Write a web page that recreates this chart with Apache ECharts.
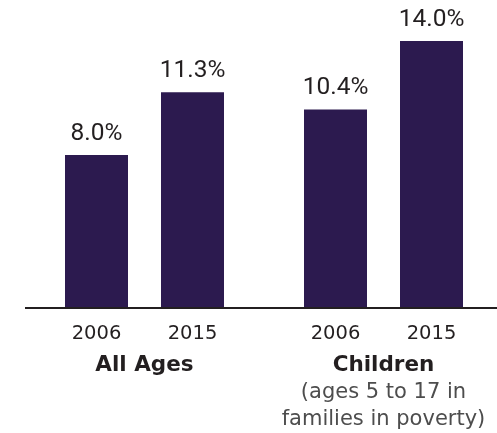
<!DOCTYPE html>
<html>
<head>
<meta charset="utf-8">
<script src="https://cdn.jsdelivr.net/npm/echarts@6/dist/echarts.min.js"></script>
<style>html,body{margin:0;padding:0;background:#fff}#c{width:497px;height:433px}</style>
</head>
<body>
<div id="c"></div>
<script>
var years = ['2006', '2015'];
var groupNames = ['All Ages', 'Children'];
var groupSubtitle = ['(ages 5 to 17 in', 'families in poverty)'];
var allAgesValues = [8.0, 11.3];
var childrenValues = [10.4, 14.0];

var barColor = '#2c1a4f';
var textColor = '#231f20';
var font = 'DejaVu Sans';

function hasFont(name) {
  var c = document.createElement('canvas').getContext('2d');
  c.font = '27px monospace';
  var a = c.measureText('14.0% abcdefg').width;
  c.font = '27px "' + name + '", monospace';
  var b = c.measureText('14.0% abcdefg').width;
  return Math.abs(a - b) > 0.5;
}
var narrow = hasFont('Liberation Sans Narrow');
var labelFont = narrow ? 'Liberation Sans Narrow' : 'Roboto';
var labelSize = narrow ? 27 : 24.5;

var chart = echarts.init(document.getElementById('c'), null, {renderer: 'canvas'});

function xAx(i, name) {
  return {
    type: 'category', gridIndex: i, data: years,
    axisLine: {show: false}, axisTick: {show: false},
    axisLabel: {color: textColor, fontSize: 19.5, fontFamily: font, margin: 17},
    name: name, nameLocation: 'middle', nameGap: 45,
    nameTextStyle: {
      color: textColor, fontSize: 21.5, fontFamily: font, fontWeight: 'bold', lineHeight: 27,
      rich: {
        b: {color: textColor, fontSize: 21.5, fontFamily: font, fontWeight: 'bold', lineHeight: 27},
        s: {color: '#4d4d4d', fontSize: 21, fontFamily: font, fontWeight: 'normal', lineHeight: 27}
      }
    }
  };
}
function yAx(i) {
  return {type: 'value', gridIndex: i, min: 0, max: 14, show: false, splitLine: {show: false}};
}
function ser(i, vals) {
  return {
    type: 'bar', xAxisIndex: i, yAxisIndex: i, data: vals, barWidth: 63,
    itemStyle: {color: barColor},
    label: {show: true, position: 'top', distance: 9, color: textColor, fontSize: labelSize, fontFamily: labelFont,
      formatter: function (p) { return p.value.toFixed(1) + '%'; }}
  };
}

chart.setOption({
  animation: false,
  grid: [
    {left: 48.5, width: 192, top: 41, bottom: 126, containLabel: false, outerBoundsMode: 'none'},
    {left: 287.5, width: 192, top: 41, bottom: 126, containLabel: false, outerBoundsMode: 'none'}
  ],
  xAxis: [
    xAx(0, groupNames[0]),
    xAx(1, '{b|' + groupNames[1] + '}\n{s|' + groupSubtitle[0] + '}\n{s|' + groupSubtitle[1] + '}')
  ],
  yAxis: [yAx(0), yAx(1)],
  series: [ser(0, allAgesValues), ser(1, childrenValues)],
  graphic: [{
    type: 'line', shape: {x1: 25, y1: 308, x2: 497, y2: 308},
    style: {stroke: textColor, lineWidth: 2}, z: 10
  }]
});
</script>
</body>
</html>
